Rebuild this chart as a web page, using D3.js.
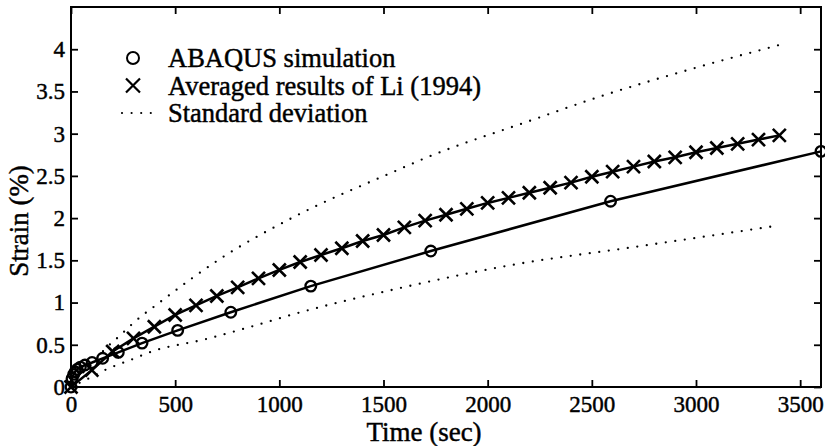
<!DOCTYPE html>
<html>
<head>
<meta charset="utf-8">
<script src="https://cdn.jsdelivr.net/npm/d3@7"></script>
<style>
  body { margin: 0; background: #fff; }
  svg text { font-family: "Liberation Serif", "Times New Roman", serif; fill: #000; stroke: #000; stroke-width: 0.45px; }
  .tick-label { font-size: 23px; }
  .axis-title { font-size: 27px; }
  .legend-label { font-size: 26.5px; }
</style>
</head>
<body>
<div id="chart"></div>
<script>
// ABAQUS simulation (circles)
const abaqusTime = [0, 5, 13, 20, 30, 45, 67, 101, 152, 227, 341, 512, 767, 1151, 1727, 2590, 3600];
const abaqusStrain = [0, 0.1, 0.15, 0.18, 0.21, 0.235, 0.26, 0.29, 0.34, 0.41, 0.52, 0.67, 0.885, 1.195, 1.61, 2.2, 2.79];

// Averaged results of Li (1994) (crosses)
const liTime = [0, 100, 200, 300, 400, 500, 600, 700, 800, 900, 1000, 1100, 1200, 1300, 1400, 1500, 1600,
  1700, 1800, 1900, 2000, 2100, 2200, 2300, 2400, 2500, 2600, 2700, 2800, 2900, 3000, 3100, 3200, 3300, 3400];
const liStrain = [0, 0.2, 0.42, 0.575, 0.714, 0.853, 0.967, 1.078, 1.18, 1.287, 1.386, 1.48, 1.563, 1.643, 1.729, 1.80, 1.891,
  1.97, 2.04, 2.11, 2.18, 2.24, 2.30, 2.36, 2.42, 2.49, 2.55, 2.61, 2.67, 2.72, 2.78, 2.83, 2.88, 2.93, 2.98];

// Standard deviation bounds (dotted)
const upperTime = [0, 50, 100, 160, 240, 300, 430, 730, 1075, 1550, 1700, 2200, 2540, 2970, 3400];
const upperStrain = [0, 0.15, 0.27, 0.44, 0.62, 0.76, 1.01, 1.54, 2.02, 2.55, 2.71, 3.15, 3.44, 3.76, 4.05];
const lowerTime = [0, 100, 180, 275, 400, 635, 907, 1051, 1550, 2140, 2710, 3390];
const lowerStrain = [0, 0.12, 0.22, 0.31, 0.43, 0.56, 0.745, 0.85, 1.155, 1.455, 1.66, 1.91];

const xTicks = [0, 500, 1000, 1500, 2000, 2500, 3000, 3500];
const yTicks = [0, 0.5, 1, 1.5, 2, 2.5, 3, 3.5, 4];

const legendLabels = ["ABAQUS simulation", "Averaged results of Li (1994)", "Standard deviation"];

const width = 825, height = 446;
const margin = { top: 7, right: 4, bottom: 59, left: 71 };
const w = width - margin.left - margin.right;
const h = height - margin.top - margin.bottom;

const svg = d3.select("#chart").append("svg")
  .attr("width", width)
  .attr("height", height);

const g = svg.append("g")
  .attr("transform", `translate(${margin.left},${margin.top})`);

const x = d3.scaleLinear().domain([0, 3600]).range([0, w]);
const y = d3.scaleLinear().domain([0, 4.5]).range([h, 0]);

const zip = (a, b) => a.map((t, i) => [t, b[i]]);

// axes with inward ticks on all sides
const tickLen = 7;
g.append("g").attr("transform", `translate(0,${h})`)
  .call(d3.axisBottom(x).tickValues(xTicks).tickFormat(d => d)
    .tickSizeInner(-tickLen).tickSizeOuter(0).tickPadding(9));
g.append("g")
  .call(d3.axisLeft(y).tickValues(yTicks).tickFormat(d => d)
    .tickSizeInner(-tickLen).tickSizeOuter(0).tickPadding(6));
g.append("g")
  .call(d3.axisTop(x).tickValues(xTicks).tickSizeInner(-tickLen).tickSizeOuter(0).tickFormat(""));
g.append("g").attr("transform", `translate(${w},0)`)
  .call(d3.axisRight(y).tickValues(yTicks).tickSizeInner(-tickLen).tickSizeOuter(0).tickFormat(""));

g.selectAll(".domain").remove();
g.selectAll(".tick line").attr("stroke", "#000").attr("stroke-width", 1.8);
g.selectAll(".tick text").attr("class", "tick-label");

g.append("rect")
  .attr("width", w).attr("height", h)
  .attr("fill", "none").attr("stroke", "#000").attr("stroke-width", 2);

// standard deviation curves
const smooth = d3.line().x(d => x(d[0])).y(d => y(d[1])).curve(d3.curveMonotoneX);
[zip(upperTime, upperStrain), zip(lowerTime, lowerStrain)].forEach(pts => {
  g.append("path")
    .attr("d", smooth(pts))
    .attr("fill", "none")
    .attr("stroke", "#000")
    .attr("stroke-width", 2.3)
    .attr("stroke-linecap", "round")
    .attr("stroke-dasharray", "0,9.6");
});

const straight = d3.line().x(d => x(d[0])).y(d => y(d[1]));

// Li (1994)
const liPts = zip(liTime, liStrain);
g.append("path")
  .attr("d", straight(liPts))
  .attr("fill", "none").attr("stroke", "#000").attr("stroke-width", 2.5);

const cross = s => `M${-s},${-s}L${s},${s}M${-s},${s}L${s},${-s}`;
g.selectAll(".li-mark").data(liPts).enter().append("path")
  .attr("class", "li-mark")
  .attr("transform", d => `translate(${x(d[0])},${y(d[1])})`)
  .attr("d", cross(6.5))
  .attr("stroke", "#000").attr("stroke-width", 2.6).attr("fill", "none");

// ABAQUS
const abPts = zip(abaqusTime, abaqusStrain);
g.append("path")
  .attr("d", straight(abPts))
  .attr("fill", "none").attr("stroke", "#000").attr("stroke-width", 2.5);

g.selectAll(".ab-mark").data(abPts).enter().append("circle")
  .attr("class", "ab-mark")
  .attr("cx", d => x(d[0]))
  .attr("cy", d => y(d[1]))
  .attr("r", 5.3)
  .attr("fill", "none")
  .attr("stroke", "#000").attr("stroke-width", 2.3);

// axis titles
svg.append("text")
  .attr("class", "axis-title")
  .attr("x", 424)
  .attr("y", 441)
  .attr("text-anchor", "middle")
  .text("Time (sec)");

svg.append("text")
  .attr("class", "axis-title")
  .attr("transform", "translate(28,221) rotate(-90)")
  .attr("text-anchor", "middle")
  .text("Strain (%)");

// legend
const legend = svg.append("g").attr("transform", "translate(133,58)");
const rowGap = 27.5;
legend.append("circle")
  .attr("cx", 0).attr("cy", 0).attr("r", 6)
  .attr("fill", "none").attr("stroke", "#000").attr("stroke-width", 2);
legend.append("path")
  .attr("transform", `translate(0,${rowGap})`)
  .attr("d", cross(7))
  .attr("stroke", "#000").attr("stroke-width", 2.2);
legend.append("line")
  .attr("x1", -11).attr("x2", 22)
  .attr("y1", rowGap * 2).attr("y2", rowGap * 2)
  .attr("stroke", "#000").attr("stroke-width", 2.2)
  .attr("stroke-linecap", "round").attr("stroke-dasharray", "0,9.6");

legend.selectAll(".legend-label").data(legendLabels).enter().append("text")
  .attr("class", "legend-label")
  .attr("x", 35)
  .attr("y", (d, i) => i * rowGap + 9)
  .text(d => d);
</script>
</body>
</html>
